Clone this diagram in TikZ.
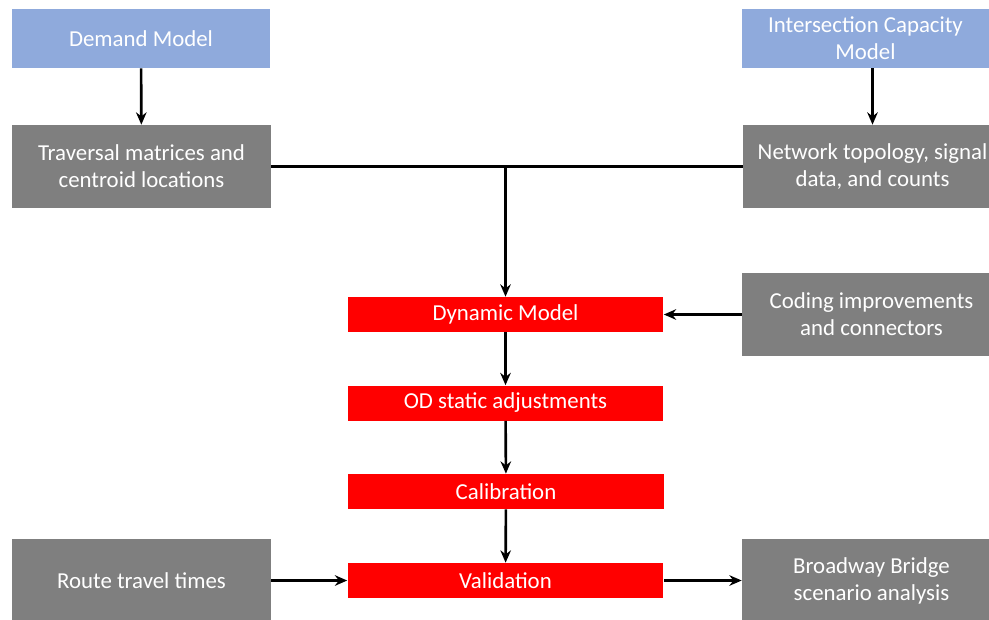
\documentclass[tikz,border=0pt]{standalone}
\usepackage{fontspec}
\setmainfont{Carlito}
\usetikzlibrary{arrows.meta}

\definecolor{modelBlue}{HTML}{8FAADC}
\definecolor{dataGray}{HTML}{7F7F7F}
\definecolor{stageRed}{HTML}{FF0000}

\begin{document}
\begin{tikzpicture}[
  x=0.02cm, y=-0.02cm,
  font=\fontsize{13}{15.3}\selectfont, >=Stealth,
  model/.style={fill=modelBlue, text=white, align=center, inner sep=0pt,
                minimum height=1.18cm},
  data/.style={fill=dataGray, text=white, align=center, inner sep=0pt,
               minimum width=5.18cm, minimum height=1.66cm},
  stage/.style={fill=stageRed, text=white, align=center, inner sep=0pt,
                minimum width=6.32cm, minimum height=0.7cm},
  arr/.style={-{Stealth[length=7pt,width=6pt]}, line width=1.5pt, black},
  link/.style={line width=1.5pt, black},
]
\useasboundingbox (0,0) rectangle (989,619);

\node[model, minimum width=5.16cm] (dem) at (141,38.5)   {Demand Model};
\node[model, minimum width=4.94cm] (icm) at (865.5,38.5) {Intersection Capacity\\Model};

\node[data] (trav)  at (141.5,166.5) {Traversal matrices and\\centroid locations};
\node[data] (net)   at (872.5,166.5) {Network topology, signal\\data, and counts};
\node[data] (cod)   at (871.5,314.5) {Coding improvements\\and connectors};
\node[data] (route) at (141.5,580.5) {Route travel times};
\node[data] (bro)   at (871.5,580.5) {Broadway Bridge\\scenario analysis};

\node[stage] (dyn) at (505.5,314.5) {Dynamic Model};
\node[stage] (ods) at (505.5,403)   {OD static adjustments};
\node[stage] (cal) at (506,491.5)   {Calibration};
\node[stage] (val) at (505.5,580.5) {Validation};

\draw[arr] (dem) -- (trav);
\draw[arr] (net |- icm.south) -- (net);
\draw[link] (trav) -- (net);
\draw[arr] (dyn |- trav) -- (dyn);
\draw[arr] (cod) -- (dyn);
\draw[arr] (dyn) -- (ods);
\draw[arr] (ods) -- (cal);
\draw[arr] (cal) -- (val);
\draw[arr] (route) -- (val);
\draw[arr] (val) -- (bro);
\end{tikzpicture}
\end{document}
